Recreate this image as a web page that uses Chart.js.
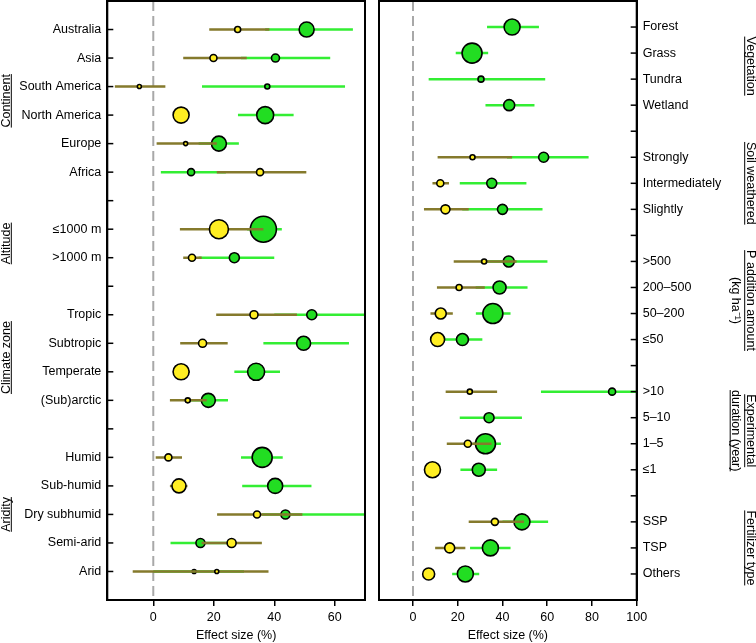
<!DOCTYPE html>
<html>
<head>
<meta charset="utf-8">
<script src="https://cdn.jsdelivr.net/npm/chart.js@4.4.1/dist/chart.umd.min.js"></script>
<style>
  body { margin: 0; background: #fff; }
  #wrap { position: relative; width: 756px; height: 643px; }
  canvas { position: absolute; top: 0; }
</style>
</head>
<body>
<div id="wrap">
  <canvas id="left" width="372" height="643" style="left:0;width:372px;height:643px"></canvas>
  <canvas id="right" width="384" height="643" style="left:372px;width:384px;height:643px"></canvas>
</div>
<script>
// ---- left panel data (rows top to bottom, '' = spacer row) ----
const leftRows = ['Australia', 'Asia', 'South America', 'North America', 'Europe', 'Africa', '',
  '≤1000 m', '>1000 m', '', 'Tropic', 'Subtropic', 'Temperate', '(Sub)arctic', '',
  'Humid', 'Sub-humid', 'Dry subhumid', 'Semi-arid', 'Arid'];
const leftGreen   = [50.7, 40.4, 37.7, 37.0, 21.7, 12.5, null, 36.4, 26.8, null, 52.4, 49.7, 34.0, 18.2, null, 36.0, 40.3, 43.7, 15.6, 13.5];
const leftGreenLo = [37.0, 29.0, 16.1, 28.0, 15.0, 2.5, null, 31.0, 15.0, null, 40.0, 36.4, 26.8, 12.0, null, 29.0, 29.4, 36.0, 5.7, 0.0];
const leftGreenHi = [66.0, 58.5, 63.4, 46.4, 28.3, 24.0, null, 42.5, 40.0, null, 76.0, 64.7, 41.9, 24.7, null, 42.8, 52.3, 75.0, 25.0, 30.0];
const leftGreenN  = [7.5, 4, 2.5, 8.5, 7.5, 3.5, null, 13, 5, null, 5, 7, 8.5, 7, null, 10, 7.5, 4.5, 4.5, 2];
const leftYellow   = [27.9, 19.9, -4.6, 9.2, 10.7, 35.3, null, 21.7, 12.8, null, 33.3, 16.3, 9.2, 11.4, null, 5.0, 8.5, 34.3, 25.9, 21.0];
const leftYellowLo = [18.5, 9.9, -12.7, 7.0, 1.1, 21.0, null, 8.8, 9.9, null, 20.8, 8.9, 6.5, 5.5, null, 0.8, 5.5, 21.1, 16.0, -6.8];
const leftYellowHi = [38.4, 30.9, 4.0, 11.5, 21.0, 50.6, null, 36.4, 16.0, null, 47.5, 24.6, 12.1, 17.7, null, 9.5, 11.3, 49.3, 35.9, 38.1];
const leftYellowN  = [3, 3.5, 2, 8, 2, 3.5, null, 9.5, 3.5, null, 4, 4, 8, 2.5, null, 3.5, 7, 3.5, 4.5, 2];
const leftXTicks = [0, 20, 40, 60];
const leftGroups = [
  { lines: ['Continent'], first: 1, last: 6 },
  { lines: ['Altitude'], first: 8, last: 9 },
  { lines: ['Climate zone'], first: 11, last: 14 },
  { lines: ['Aridity'], first: 16, last: 20 }
];

// ---- right panel data ----
const rightRows = ['Forest', 'Grass', 'Tundra', 'Wetland', '', 'Strongly', 'Intermediately', 'Slightly', '',
  '>500', '200–500', '50–200', '≤50', '', '>10', '5–10', '1–5', '≤1', '', 'SSP', 'TSP', 'Others'];
const rightGreen   = [44.3, 26.4, 30.4, 43.0, null, 58.4, 35.2, 40.0, null, 42.8, 38.7, 35.7, 22.1, null, 89.0, 34.0, 32.4, 29.4, null, 48.7, 34.6, 23.4];
const rightGreenLo = [33.1, 19.1, 7.0, 32.4, null, 42.0, 20.9, 22.0, null, 30.0, 28.0, 28.1, 14.0, null, 57.2, 20.9, 27.0, 21.2, null, 40.0, 25.5, 17.5];
const rightGreenHi = [56.3, 33.6, 59.1, 54.3, null, 78.5, 50.7, 57.9, null, 60.1, 51.2, 43.6, 31.0, null, 104, 48.7, 39.3, 37.6, null, 60.4, 43.6, 29.6];
const rightGreenN  = [8, 10, 3, 5.5, null, 5, 5, 5, null, 5.5, 6.5, 10, 6, null, 3.5, 5, 10, 6.5, null, 8, 8, 8];
const rightYellow   = [null, null, null, null, null, 26.6, 12.2, 14.5, null, 31.8, 20.6, 12.4, 11.0, null, 25.4, null, 24.5, 8.7, null, 36.6, 16.4, 7.0];
const rightYellowLo = [null, null, null, null, null, 11.0, 8.7, 4.9, null, 18.2, 10.7, 7.8, 8.0, null, 14.6, null, 15.1, 5.5, null, 24.9, 9.9, 4.5];
const rightYellowHi = [null, null, null, null, null, 44.3, 16.1, 24.9, null, 46.3, 32.1, 17.8, 14.0, null, 37.6, null, 35.1, 12.0, null, 49.6, 23.4, 9.5];
const rightYellowN  = [null, null, null, null, null, 2.5, 3.5, 4.5, null, 2.5, 3, 5.5, 7, null, 2.5, null, 3.5, 8, null, 3.5, 5, 6];
const rightXTicks = [0, 20, 40, 60, 80, 100];
const rightGroups = [
  { lines: ['Vegetation'], under: [true], first: 1, last: 4 },
  { lines: ['Soil weathered'], under: [true], first: 6, last: 8 },
  { lines: ['P addition amount', '(kg ha⁻¹)'], under: [true, false], first: 10, last: 13 },
  { lines: ['Experimental', 'duration (year)'], under: [true, true], first: 15, last: 18 },
  { lines: ['Fertilizer type'], under: [true], first: 20, last: 22 }
];

const FONT = { family: '"Liberation Sans", Arial, sans-serif', size: 12.5 };

// CI segments as one line with gaps
function segments(lo, hi) {
  const out = [];
  lo.forEach((v, i) => {
    if (v === null) return;
    out.push({ x: v, y: i + 1 }, { x: hi[i], y: i + 1 }, { x: null, y: null });
  });
  return out;
}
function dots(mean, size) {
  const out = [];
  mean.forEach((v, i) => { if (v !== null) out.push({ x: v, y: i + 1, r: size[i] }); });
  return out;
}
function noPad(s) {
  s.paddingTop = 0; s.paddingBottom = 0; s.paddingLeft = 0; s.paddingRight = 0;
}

const framePlugin = {
  id: 'frame',
  afterDraw(chart, args, opts) {
    const { ctx, chartArea: a } = chart;
    const ys = chart.scales.y;
    ctx.save();
    ctx.strokeStyle = '#000';
    ctx.lineWidth = 2;
    ctx.strokeRect(a.left, a.top, a.right - a.left, a.bottom - a.top);
    // inward y ticks
    ctx.lineWidth = 1.5;
    ys.ticks.forEach(t => {
      const py = ys.getPixelForValue(t.value);
      ctx.beginPath();
      if (opts.side === 'left') { ctx.moveTo(a.left, py); ctx.lineTo(a.left + 6, py); }
      else { ctx.moveTo(a.right - 6, py); ctx.lineTo(a.right, py); }
      ctx.stroke();
    });
    // group titles
    ctx.fillStyle = '#000';
    ctx.font = FONT.size + 'px ' + FONT.family;
    ctx.textAlign = 'center';
    ctx.textBaseline = 'alphabetic';
    ctx.lineWidth = 1;
    opts.groups.forEach(g => {
      const yc = ys.getPixelForValue((g.first + g.last) / 2);
      ctx.save();
      if (opts.side === 'left') { ctx.translate(0, yc); ctx.rotate(-Math.PI / 2); }
      else { ctx.translate(chart.width, yc); ctx.rotate(Math.PI / 2); }
      g.lines.forEach((txt, k) => {
        const base = 9.5 + k * 14.5;
        ctx.fillText(txt, 0, base);
        if (!g.under || g.under[k]) {
          const w = ctx.measureText(txt).width;
          ctx.beginPath();
          ctx.moveTo(-w / 2, base + 1.8);
          ctx.lineTo(w / 2, base + 1.8);
          ctx.stroke();
        }
      });
      ctx.restore();
    });
    ctx.restore();
  }
};

function panel(id, p) {
  const n = p.rows.length;
  const rowTicks = p.rows.map((_, i) => i + 1);
  new Chart(document.getElementById(id), {
    type: 'bubble',
    data: {
      datasets: [
        { type: 'line', data: [{ x: 0, y: 0 }, { x: 0, y: n + 1 }], borderColor: '#a8a8a8', borderWidth: 2,
          borderDash: [10, 5], pointRadius: 0, order: 6 },
        { type: 'line', data: segments(p.gLo, p.gHi), borderColor: '#33ee33', borderWidth: 2.5,
          pointRadius: 0, spanGaps: false, order: 5 },
        { type: 'bubble', data: dots(p.g, p.gN), backgroundColor: '#22dd22', borderColor: '#000',
          borderWidth: 1.6, order: 4 },
        { type: 'line', data: segments(p.yLo, p.yHi), borderColor: '#857a2c', borderWidth: 2.5,
          pointRadius: 0, spanGaps: false, order: 3 },
        { type: 'bubble', data: dots(p.y, p.yN), backgroundColor: '#ffee22', borderColor: '#000',
          borderWidth: 1.6, order: 2 }
      ]
    },
    options: {
      responsive: false,
      animation: false,
      events: [],
      layout: { padding: p.padding, autoPadding: false },
      plugins: {
        legend: { display: false },
        tooltip: { enabled: false },
        frame: { side: p.side, groups: p.groups }
      },
      scales: {
        x: {
          type: 'linear', min: p.xMin, max: p.xMax,
          afterBuildTicks: s => { s.ticks = p.xTicks.map(v => ({ value: v })); },
          afterFit: s => { s.height = 43; noPad(s); },
          grid: { drawOnChartArea: false, drawTicks: true, tickLength: 6, color: '#000', lineWidth: 1.5 },
          border: { display: true, color: '#000', width: 2 },
          ticks: { color: '#000', font: FONT, padding: 4, maxRotation: 0, autoSkip: false },
          title: { display: true, text: 'Effect size (%)', color: '#000', font: FONT, padding: 0 }
        },
        y: {
          type: 'linear', position: p.side, reverse: true, min: 0, max: n + 1,
          afterBuildTicks: s => { s.ticks = rowTicks.map(v => ({ value: v })); },
          afterFit: s => { s.width = p.axisWidth; noPad(s); },
          grid: { display: false, drawTicks: false, tickLength: 0 },
          border: { display: true, color: '#000', width: 2 },
          ticks: { color: '#000', font: FONT, padding: 6, autoSkip: false,
            callback: v => p.rows[v - 1] || '' }
        }
      }
    },
    plugins: [framePlugin]
  });
}

panel('left', {
  rows: leftRows, side: 'left', axisWidth: 107.3, padding: { top: 1, right: 7, left: 0, bottom: 0 },
  xMin: -15.2, xMax: 70, xTicks: leftXTicks, groups: leftGroups,
  g: leftGreen, gLo: leftGreenLo, gHi: leftGreenHi, gN: leftGreenN,
  y: leftYellow, yLo: leftYellowLo, yHi: leftYellowHi, yN: leftYellowN
});
panel('right', {
  rows: rightRows, side: 'right', axisWidth: 119.3, padding: { top: 1, right: 0, left: 7, bottom: 0 },
  xMin: -15.2, xMax: 100, xTicks: rightXTicks, groups: rightGroups,
  g: rightGreen, gLo: rightGreenLo, gHi: rightGreenHi, gN: rightGreenN,
  y: rightYellow, yLo: rightYellowLo, yHi: rightYellowHi, yN: rightYellowN
});
</script>
</body>
</html>
